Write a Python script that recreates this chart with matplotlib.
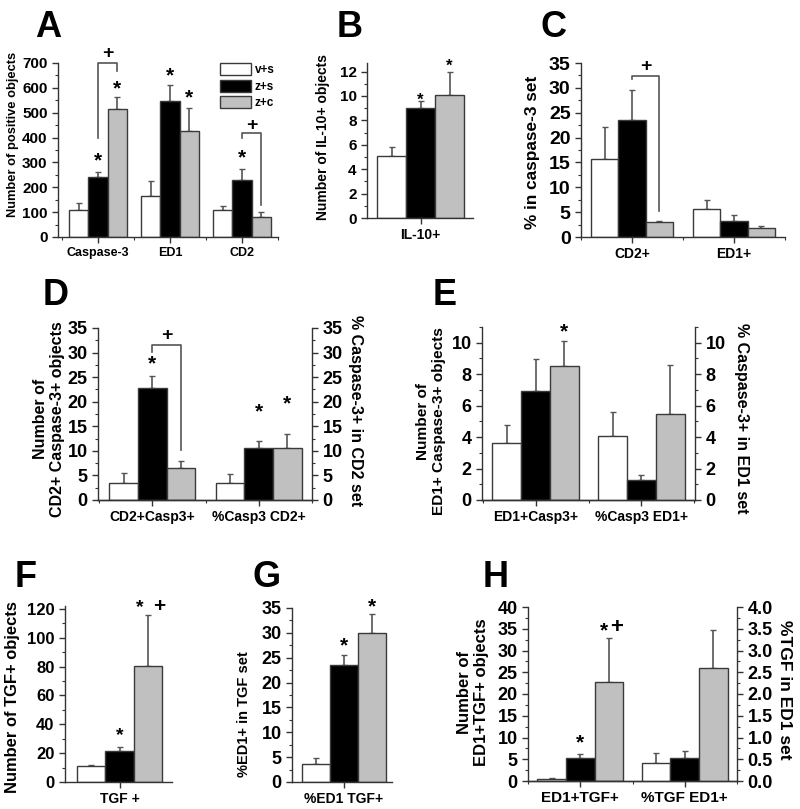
import numpy as np
import matplotlib
matplotlib.use("Agg")
import matplotlib.pyplot as plt
from matplotlib.ticker import MultipleLocator, FormatStrFormatter

plt.rcParams.update({"font.family": ["Liberation Sans", "DejaVu Sans"],
                     "font.weight": "bold",
                     "axes.linewidth": 1.0,
                     "axes.edgecolor": "#333333"})

W, H = 800, 809
GROUPS = ["v+s", "z+s", "z+c"]
COLORS = ["white", "black", "#c0c0c0"]

# A
a_cats = ["Caspase-3", "ED1", "CD2"]
a_vs = [107, 165, 110]
a_zs = [243, 548, 228]
a_zc = [513, 428, 80]
a_vs_err = [30, 60, 15]
a_zs_err = [19, 65, 44]
a_zc_err = [49, 92, 22]
# B
b_cats = ["IL-10+"]
b_mean = [5.05, 9.0, 10.1]
b_err = [0.8, 0.55, 1.85]
# C
c_cats = ["CD2+", "ED1+"]
c_vs = [15.6, 5.6]
c_zs = [23.6, 3.3]
c_zc = [3.0, 1.8]
c_vs_err = [6.6, 1.8]
c_zs_err = [5.9, 1.1]
c_zc_err = [0.2, 0.4]
# D (left: counts, right: %)
d_cats = ["CD2+Casp3+", "%Casp3 CD2+"]
d_vs = [3.5, 3.5]
d_zs = [22.7, 10.5]
d_zc = [6.6, 10.6]
d_vs_err = [2.0, 1.8]
d_zs_err = [2.5, 1.6]
d_zc_err = [1.4, 2.9]
# E
e_cats = ["ED1+Casp3+", "%Casp3 ED1+"]
e_vs = [3.65, 4.1]
e_zs = [6.9, 1.3]
e_zc = [8.55, 5.45]
e_vs_err = [1.1, 1.5]
e_zs_err = [2.05, 0.3]
e_zc_err = [1.55, 3.15]
# F
f_cats = ["TGF +"]
f_mean = [11, 21.5, 80.5]
f_err = [1, 3, 35]
# G
g_cats = ["%ED1 TGF+"]
g_mean = [3.6, 23.6, 30.0]
g_err = [1.3, 1.9, 3.8]
# H
h_cats = ["ED1+TGF+", "%TGF ED1+"]
h_vs = [0.4, 0.405]
h_zs = [5.4, 0.53]
h_zc = [22.7, 2.59]
h_vs_err = [0.2, 0.23]
h_zs_err = [0.9, 0.17]
h_zc_err = [10.1, 0.87]

fig = plt.figure(figsize=(W / 100, H / 100), dpi=100)


def px_axes(x0, x1, ytop, ybot):
    return fig.add_axes([x0 / W, 1 - ybot / H, (x1 - x0) / W, (ybot - ytop) / H])


def style(ax, ymax, major, minor, tsize, right=False):
    ax.set_ylim(0, ymax)
    ax.yaxis.set_major_locator(MultipleLocator(major))
    ax.yaxis.set_minor_locator(MultipleLocator(minor))
    ax.spines["top"].set_visible(False)
    if not right:
        ax.spines["right"].set_visible(False)
    ax.tick_params(axis="both", which="major", direction="out", length=4,
                   width=1, labelsize=tsize, color="#333333")
    ax.tick_params(axis="both", which="minor", direction="out", length=2,
                   width=0.8, color="#333333")


def bars(ax, xs, vals, errs, k, bw):
    x = np.asarray(xs) + (k - 1) * bw
    b = ax.bar(x, vals, width=bw, color=COLORS[k], edgecolor="#3a3a3a",
               linewidth=1.0, zorder=2)
    ax.errorbar(x, vals, yerr=[np.zeros(len(vals)), errs], fmt="none",
                ecolor="#555555", elinewidth=1.2, capsize=2.2, capthick=1.0,
                zorder=1)
    return b


def xcats(ax, cats, xlim, size):
    n = len(cats)
    ax.set_xlim(*xlim)
    ax.set_xticks(range(n))
    ax.set_xticklabels(cats, fontsize=size, fontweight="bold")
    ax.set_xticks([i + 0.5 for i in range(-1, n)], minor=True)


def star(ax, x, y, size=14, s="*"):
    ax.text(x, y, s, ha="center", va="center", fontsize=size,
            fontweight="bold", clip_on=False, zorder=5)


def bracket(ax, x1, x2, y, y1, y2):
    ax.plot([x1, x1, x2, x2], [y1, y, y, y2], color="#555555", lw=1.2,
            clip_on=False, zorder=3)


def letter(x, y, s):
    fig.text(x / W, 1 - y / H, s, fontsize=26, fontweight="bold",
             ha="left", va="baseline")


def ylab(x, y, s, size, rot=90):
    fig.text(x / W, 1 - y / H, s, fontsize=size, fontweight="bold",
             rotation=rot, ha="center", va="center", multialignment="center")


# ---------------- A ----------------
axA = px_axes(58, 278, 63, 237)
bw = 0.268
xs = np.arange(3)
handles = []
for k, (v, e) in enumerate([(a_vs, a_vs_err), (a_zs, a_zs_err), (a_zc, a_zc_err)]):
    handles.append(bars(axA, xs, v, e, k, bw))
style(axA, 700, 100, 50, 11)
xcats(axA, a_cats, (-0.556, 2.5), 9)
axA.legend(handles, GROUPS, loc="upper left", bbox_to_anchor=(0.69, 1.06),
           frameon=False, handlelength=2.6, handleheight=1.2, labelspacing=0.3,
           handletextpad=0.3, prop={"size": 8.5, "weight": "bold"})
star(axA, 0, 305, 15)
star(axA, bw, 594, 15)
star(axA, 1, 648, 15)
star(axA, 1 + bw, 558, 15)
star(axA, 2, 318, 15)
bracket(axA, 0, bw, 700, 400, 666)
star(axA, bw / 2, 738, 14, "+")
bracket(axA, 2, 2 + bw, 417, 397, 128)
star(axA, 2 + bw / 2, 450, 14, "+")
letter(35, 37, "A")
ylab(13, 134, "Number of positive objects", 9.3)

# ---------------- B ----------------
axB = px_axes(367, 473, 63, 218)
bw = 0.29
for k in range(3):
    bars(axB, [0], [b_mean[k]], [b_err[k]], k, bw)
style(axB, 12.7, 2, 1, 11)
xcats(axB, b_cats, (-0.535, 0.525), 10)
axB.set_xticks([], minor=True)
star(axB, 0, 9.65, 12)
star(axB, bw, 12.4, 12)
letter(337, 37, "B")
ylab(323, 137, "Number of IL-10+ objects", 10)

# ---------------- C ----------------
axC = px_axes(581, 785, 63, 237)
bw = 0.266
xs = np.arange(2)
for k, (v, e) in enumerate([(c_vs, c_vs_err), (c_zs, c_zs_err), (c_zc, c_zc_err)]):
    bars(axC, xs, v, e, k, bw)
style(axC, 35, 5, 2.5, 14)
xcats(axC, c_cats, (-0.416, 1.49), 10)
bracket(axC, 0, bw, 32.4, 31.8, 5.2)
star(axC, bw / 2, 34.2, 14, "+")
letter(540, 37, "C")
ylab(532, 152, "% in caspase-3 set", 12.4)

# ---------------- D ----------------
axD = px_axes(98, 312, 328, 500)
axD2 = axD.twinx()
bw = 0.268
for k, (v, e) in enumerate([(d_vs, d_vs_err), (d_zs, d_zs_err), (d_zc, d_zc_err)]):
    bars(axD, [0], [v[0]], [e[0]], k, bw)
    bars(axD2, [1], [v[1]], [e[1]], k, bw)
style(axD, 35, 5, 2.5, 13)
style(axD2, 35, 5, 2.5, 13, right=True)
axD2.spines["left"].set_visible(False)
xcats(axD, d_cats, (-0.51, 1.49), 10)
star(axD, 0, 27.6, 15)
star(axD2, 1, 18.0, 15)
star(axD2, 1 + bw, 19.6, 15)
bracket(axD, 0, bw, 31.6, 30.2, 10.2)
star(axD, bw / 2, 33.5, 14, "+")
letter(43, 305, "D")
ylab(49, 419, "Number of\nCD2+ Caspase-3+ objects", 11.5)
ylab(355, 411, "% Caspase-3+ in CD2 set", 11.5, rot=270)

# ---------------- E ----------------
axE = px_axes(482, 695, 327, 500)
axE2 = axE.twinx()
bw = 0.273
for k, (v, e) in enumerate([(e_vs, e_vs_err), (e_zs, e_zs_err), (e_zc, e_zc_err)]):
    bars(axE, [0], [v[0]], [e[0]], k, bw)
    bars(axE2, [1], [v[1]], [e[1]], k, bw)
style(axE, 11, 2, 1, 13)
style(axE2, 11, 2, 1, 13, right=True)
axE2.spines["left"].set_visible(False)
xcats(axE, e_cats, (-0.505, 1.505), 10)
star(axE, bw, 10.7, 15)
letter(433, 305, "E")
ylab(431, 421, "Number of\nED1+ Caspase-3+ objects", 11.1)
ylab(741, 418, "% Caspase-3+ in ED1 set", 11.5, rot=270)

# ---------------- F ----------------
axF = px_axes(65, 172, 606, 782)
bw = 0.285
for k in range(3):
    bars(axF, [0], [f_mean[k]], [f_err[k]], k, bw)
style(axF, 122, 20, 10, 12)
xcats(axF, f_cats, (-0.545, 0.525), 10)
axF.set_xticks([], minor=True)
star(axF, 0, 32, 14)
star(axF, bw - 0.08, 121, 14)
star(axF, bw + 0.11, 122, 15, "+")
letter(15, 587, "F")
ylab(13, 697, "Number of TGF+ objects", 11.9)

# ---------------- G ----------------
axG = px_axes(292, 392, 608, 782)
bw = 0.29
for k in range(3):
    bars(axG, [0], [g_mean[k]], [g_err[k]], k, bw)
style(axG, 35, 5, 2.5, 13)
xcats(axG, g_cats, (-0.535, 0.465), 10)
axG.set_xticks([], minor=True)
star(axG, 0, 27.4, 15)
star(axG, bw, 35.3, 15)
letter(252, 587, "G")
ylab(244, 714, "%ED1+ in TGF set", 10.5)

# ---------------- H ----------------
axH = px_axes(528, 737, 607, 781)
axH2 = axH.twinx()
bw = 0.273
for k, (v, e) in enumerate([(h_vs, h_vs_err), (h_zs, h_zs_err), (h_zc, h_zc_err)]):
    bars(axH, [0], [v[0]], [e[0]], k, bw)
    bars(axH2, [1], [v[1]], [e[1]], k, bw)
style(axH, 40, 5, 2.5, 13)
style(axH2, 4.0, 0.5, 0.25, 13, right=True)
axH2.yaxis.set_major_formatter(FormatStrFormatter("%.1f"))
axH2.spines["left"].set_visible(False)
xcats(axH, h_cats, (-0.49, 1.5), 11)
star(axH, 0, 8.8, 15)
star(axH, bw - 0.05, 34.6, 15)
star(axH, bw + 0.07, 35.2, 16, "+")
letter(483, 587, "H")
ylab(473, 692, "Number of\nED1+TGF+ objects", 12)
ylab(785, 690, "%TGF in ED1 set", 12.5, rot=270)

fig.savefig("out.png", dpi=100)
